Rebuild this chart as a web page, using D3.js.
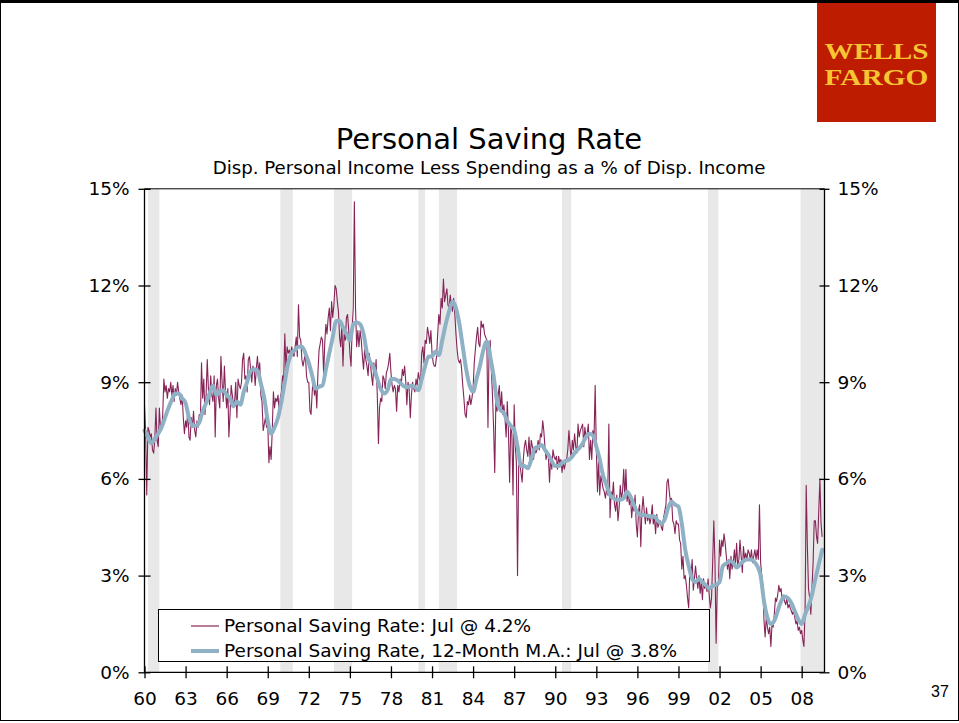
<!DOCTYPE html>
<html>
<head>
<meta charset="utf-8">
<script src="https://cdn.jsdelivr.net/npm/d3@7"></script>
<style>
  body { margin: 0; background: #fff; }
  svg { display: block; }
</style>
</head>
<body>
<svg id="chart" width="959" height="723"></svg>
<script>
// monthly personal saving rate, Jan 1960 - Jul 2009 (one row per year)
var savingRate = [].concat(
    [8.3, 7.4, 5.5, 7.6, 7.5, 7.3, 7.4, 6.9, 6.8, 7.2, 8.2, 7.2],
    [7.0, 8.2, 7.6, 7.5, 8.0, 9.1, 8.7, 8.9, 8.5, 8.8, 8.7, 9.0],
    [8.6, 8.9, 8.4, 8.8, 8.6, 9.0, 8.7, 8.5, 8.3, 8.6, 7.9, 7.4],
    [7.8, 7.6, 8.2, 7.3, 7.2, 7.9, 7.6, 8.1, 7.5, 7.3, 7.8, 7.6],
    [8.0, 7.9, 9.6, 8.5, 9.1, 8.0, 8.6, 9.7, 8.8, 8.3, 9.2, 8.6],
    [8.4, 9.2, 7.3, 8.9, 9.1, 8.5, 8.2, 9.8, 9.0, 8.4, 9.5, 8.7],
    [8.2, 8.8, 7.3, 8.0, 8.9, 8.6, 8.3, 8.4, 9.0, 7.9, 9.1, 8.9],
    [8.8, 9.0, 9.7, 9.9, 9.1, 9.2, 8.7, 9.7, 9.8, 9.4, 9.0, 9.5],
    [9.4, 8.9, 9.4, 9.8, 9.3, 9.6, 8.6, 8.4, 7.5, 7.7, 7.9, 7.6],
    [7.7, 6.5, 7.0, 6.6, 7.5, 8.7, 8.2, 8.5, 8.4, 8.6, 8.1, 8.5],
    [8.7, 9.2, 9.0, 10.5, 9.4, 10.1, 9.9, 10.0, 9.8, 10.1, 9.9, 9.8],
    [10.1, 10.4, 9.8, 11.4, 10.4, 10.3, 9.7, 9.5, 9.7, 9.9, 9.2, 9.0],
    [9.0, 8.1, 8.0, 8.7, 9.1, 8.6, 8.9, 8.2, 9.3, 10.0, 10.2, 10.4],
    [10.3, 9.2, 10.2, 10.8, 10.5, 11.0, 11.3, 10.6, 11.5, 11.0, 11.4, 12.0],
    [11.9, 11.5, 11.2, 10.4, 10.1, 10.8, 9.5, 10.5, 10.3, 11.0, 11.1, 10.6],
    [9.9, 9.5, 10.6, 11.3, 14.6, 11.3, 10.1, 10.6, 10.1, 10.6, 10.3, 9.8],
    [9.4, 10.1, 9.7, 9.5, 9.2, 9.9, 9.6, 9.2, 8.9, 9.6, 9.2, 9.7],
    [8.6, 7.1, 8.2, 8.5, 8.4, 9.2, 9.1, 8.8, 9.3, 9.4, 9.6, 9.9],
    [9.3, 8.9, 8.7, 8.9, 8.8, 8.1, 8.9, 8.7, 9.1, 8.9, 9.4, 9.2],
    [9.5, 9.0, 8.3, 9.0, 8.8, 7.9, 8.6, 9.0, 8.8, 8.7, 9.1, 8.9],
    [9.3, 9.1, 9.0, 9.9, 10.1, 9.6, 10.3, 10.2, 10.7, 10.5, 10.2, 10.6],
    [9.9, 9.6, 9.5, 9.5, 9.8, 10.5, 11.1, 10.8, 11.6, 11.3, 12.2, 11.5],
    [11.7, 11.9, 11.4, 11.3, 11.7, 11.4, 11.2, 11.6, 11.1, 10.5, 10.0, 9.7],
    [9.6, 9.7, 9.4, 8.9, 8.5, 8.0, 7.9, 8.4, 8.3, 8.6, 8.3, 8.5],
    [8.8, 9.6, 10.0, 10.4, 10.7, 10.2, 10.1, 10.9, 10.7, 10.8, 10.5, 10.4],
    [10.3, 7.6, 9.9, 10.3, 9.4, 8.6, 7.6, 6.2, 8.5, 8.1, 8.6, 8.9],
    [8.1, 8.7, 8.0, 8.3, 7.9, 7.3, 8.4, 7.5, 5.9, 7.6, 7.4, 5.5],
    [8.3, 7.0, 6.5, 3.0, 6.4, 6.5, 6.2, 5.9, 6.6, 7.0, 7.2, 6.9],
    [6.7, 7.3, 6.6, 7.2, 7.0, 6.6, 7.0, 6.8, 6.9, 7.2, 6.9, 7.4],
    [7.3, 7.8, 7.5, 7.0, 6.6, 6.8, 6.7, 5.9, 6.7, 6.3, 6.9, 6.7],
    [6.6, 6.7, 6.3, 6.7, 6.5, 6.6, 6.2, 6.5, 6.3, 6.5, 6.6, 6.9],
    [7.5, 7.0, 6.6, 7.2, 6.9, 7.4, 7.0, 6.8, 7.7, 7.3, 7.5, 7.6],
    [7.7, 7.0, 7.6, 7.3, 7.4, 7.7, 6.6, 7.2, 6.6, 7.5, 7.3, 8.9],
    [6.9, 5.6, 6.6, 5.5, 6.1, 5.9, 5.7, 5.6, 5.4, 5.7, 5.5, 7.7],
    [4.8, 5.6, 5.4, 5.9, 5.2, 5.0, 5.5, 4.7, 5.1, 5.8, 5.4, 5.6],
    [6.3, 5.4, 6.3, 5.3, 5.6, 5.2, 5.5, 4.8, 5.2, 5.0, 5.5, 4.6],
    [4.2, 5.0, 5.2, 3.9, 5.0, 5.45, 5.0, 4.6, 5.1, 4.7, 4.9, 4.6],
    [4.8, 5.2, 4.6, 4.8, 4.3, 4.9, 4.5, 4.6, 4.7, 4.5, 4.4, 4.8],
    [5.0, 5.2, 5.9, 6.0, 5.6, 5.3, 5.4, 4.7, 4.6, 4.3, 4.7, 4.6],
    [4.6, 4.1, 4.0, 3.2, 3.6, 2.9, 3.0, 2.7, 2.3, 2.0, 3.2, 3.0],
    [3.5, 2.55, 2.9, 3.3, 2.9, 2.6, 3.0, 2.45, 2.8, 2.25, 2.9, 2.6],
    [2.7, 2.5, 2.9, 2.4, 2.0, 2.3, 3.4, 4.7, 3.4, 0.9, 2.7, 2.7],
    [4.1, 3.6, 4.1, 3.9, 4.3, 4.0, 3.6, 3.2, 3.5, 2.9, 3.6, 3.2],
    [3.4, 3.8, 3.3, 4.0, 3.3, 3.5, 4.1, 3.6, 3.1, 3.9, 3.5, 3.7],
    [3.5, 3.8, 3.7, 3.5, 3.8, 3.4, 3.6, 3.8, 3.5, 3.8, 3.5, 5.2],
    [3.4, 3.0, 2.7, 1.6, 1.1, 1.7, 1.4, 1.2, 1.4, 0.8, 1.5, 1.4],
    [1.8, 2.3, 2.2, 2.4, 2.7, 2.5, 2.6, 2.2, 2.4, 2.2, 2.1, 2.3],
    [2.0, 2.1, 2.0, 1.9, 1.8, 1.9, 1.7, 1.5, 1.6, 1.3, 1.4, 1.2],
    [1.3, 1.0, 0.8, 1.9, 5.8, 3.9, 2.6, 2.3, 1.8, 2.6, 3.4, 4.7],
    [4.7, 4.2, 4.0, 5.0, 6.0, 4.6, 4.2]
);

// 12-month moving average, one value per quarter (Jan, Apr, Jul, Oct)
var movingAvg = [].concat(
    [7.5, 7.3, 7.1, 7.25], [7.4, 7.6, 7.9, 8.2], [8.45, 8.65, 8.65, 8.5], [8.35, 7.9, 7.65, 7.65],
    [7.75, 8.1, 8.35, 8.65], [8.9, 8.6, 8.7, 8.75], [8.6, 8.5, 8.25, 8.4], [8.3, 8.7, 9.0, 9.35],
    [9.4, 9.37, 8.96, 8.5], [7.8, 7.4, 7.6, 7.9], [8.4, 9.0, 9.6, 9.9], [10.0, 10.1, 10.1, 9.9],
    [9.6, 9.2, 8.8, 8.86], [8.9, 9.4, 9.9, 10.4], [10.9, 10.9, 10.7, 10.5], [10.3, 10.8, 10.85, 10.8],
    [10.5, 9.9, 9.6, 9.45], [9.1, 8.8, 8.65, 8.75], [9.1, 9.1, 9.05, 8.95], [8.86, 8.85, 8.9, 8.85],
    [8.75, 9.1, 9.5, 9.8], [9.8, 9.95, 9.84, 10.3], [10.8, 11.2, 11.5, 11.3], [10.8, 10.1, 9.4, 8.9],
    [8.7, 9.1, 9.5, 10.0], [10.26, 9.8, 9.2, 8.4], [8.14, 8.05, 7.8, 7.65], [7.52, 7.0, 6.4, 6.4],
    [6.33, 6.6, 6.95, 7.0], [7.05, 6.9, 6.75, 6.55], [6.4, 6.4, 6.5, 6.55], [6.6, 6.7, 6.85, 6.95],
    [7.1, 7.3, 7.4, 7.35], [7.0, 6.6, 6.1, 5.8], [5.5, 5.4, 5.35, 5.35], [5.4, 5.6, 5.45, 5.2],
    [4.95, 4.88, 4.88, 4.85], [4.83, 4.83, 4.7, 4.62], [4.75, 5.1, 5.3, 5.2], [5.14, 4.6, 3.8, 3.3],
    [2.9, 2.8, 2.9, 2.8], [2.7, 2.6, 2.68, 2.72], [2.8, 3.3, 3.38, 3.45], [3.4, 3.25, 3.35, 3.45],
    [3.5, 3.5, 3.45, 3.3], [3.0, 2.2, 1.7, 1.5], [1.6, 1.9, 2.2, 2.35], [2.3, 2.15, 1.9, 1.65],
    [1.5, 1.8, 2.05, 2.4], [2.9, 3.35, 3.8]
);

// recessions [start, end] as [year, month index]
var recessions = [
    [[1960, 3], [1961, 1]],
    [[1969, 11], [1970, 10]],
    [[1973, 10], [1975, 2]],
    [[1980, 0], [1980, 6]],
    [[1981, 6], [1982, 10]],
    [[1990, 6], [1991, 2]],
    [[2001, 2], [2001, 11]],
    [[2007, 11], [2009, 8]]
];

var yTicks = [0, 3, 6, 9, 12, 15];
var xTickYears = [1960, 1963, 1966, 1969, 1972, 1975, 1978, 1981, 1984, 1987, 1990, 1993, 1996, 1999, 2002, 2005, 2008];
var legendLabels = [
    "Personal Saving Rate: Jul @ 4.2%",
    "Personal Saving Rate, 12-Month M.A.: Jul @ 3.8%"
];

var monthly = savingRate.map((v, i) => ({ date: new Date(1960 + Math.floor(i / 12), i % 12, 1), value: v }));
var quarterly = movingAvg.map((v, i) => ({ date: new Date(1960 + Math.floor(i / 4), (i % 4) * 3, 1), value: v }));

var svg = d3.select("svg#chart"),
    font = "Verdana, 'DejaVu Sans', sans-serif",
    plot = { left: 144.5, right: 824.5, top: 188.8, bottom: 672.3 },
    x_scale = d3.scaleTime()
        .domain([new Date(1960, 0, 1), new Date(2009, 8, 1)])
        .range([plot.left, plot.right]),
    y_scale = d3.scaleLinear().domain([0, 15]).range([plot.bottom, plot.top]);

// slide frame
svg.append("rect")
    .attr("x", 0.5).attr("y", 1.5)
    .attr("width", 958).attr("height", 719)
    .attr("fill", "none").attr("stroke", "#000").attr("stroke-width", 1);
svg.append("line")
    .attr("x1", 0).attr("x2", 959).attr("y1", 1.5).attr("y2", 1.5)
    .attr("stroke", "#000").attr("stroke-width", 3);

// logo
var logo = svg.append("g");
logo.append("rect")
    .attr("x", 817).attr("y", 3).attr("width", 119).attr("height", 119)
    .attr("fill", "#bd1c00");
logo.selectAll("text")
    .data(["WELLS", "FARGO"])
    .enter()
    .append("text")
    .attr("x", 876.5)
    .attr("y", (d, i) => 59 + i * 26)
    .attr("text-anchor", "middle")
    .attr("font-family", "'Liberation Serif', serif")
    .attr("font-weight", "bold")
    .attr("font-size", 24)
    .attr("textLength", 104)
    .attr("lengthAdjust", "spacingAndGlyphs")
    .attr("fill", "#f7c531")
    .text(d => d);

// titles
svg.append("text")
    .attr("x", 489).attr("y", 149)
    .attr("text-anchor", "middle")
    .attr("font-family", font).attr("font-size", 29)
    .text("Personal Saving Rate");
svg.append("text")
    .attr("x", 489).attr("y", 174)
    .attr("text-anchor", "middle")
    .attr("font-family", font).attr("font-size", 18.2)
    .text("Disp. Personal Income Less Spending as a % of Disp. Income");

// recession bands
svg.append("g")
    .selectAll("rect")
    .data(recessions)
    .enter()
    .append("rect")
    .attr("x", d => x_scale(new Date(d[0][0], d[0][1], 1)))
    .attr("width", d => Math.min(plot.right, x_scale(new Date(d[1][0], d[1][1], 1))) - x_scale(new Date(d[0][0], d[0][1], 1)))
    .attr("y", plot.top)
    .attr("height", plot.bottom - plot.top)
    .attr("fill", "#e8e8e8");

// series
svg.append("path")
    .datum(monthly)
    .attr("fill", "none")
    .attr("stroke", "#862457")
    .attr("stroke-width", 1.1)
    .attr("stroke-linejoin", "round")
    .attr("d", d3.line().x(d => x_scale(d.date)).y(d => y_scale(d.value)));

svg.append("path")
    .datum(quarterly)
    .attr("fill", "none")
    .attr("stroke", "#8fb1c6")
    .attr("stroke-width", 4)
    .attr("stroke-linejoin", "round")
    .attr("stroke-linecap", "round")
    .attr("d", d3.line().curve(d3.curveMonotoneX).x(d => x_scale(d.date)).y(d => y_scale(d.value)));

// frame + axes
svg.append("line")
    .attr("x1", plot.left).attr("x2", plot.right).attr("y1", plot.top).attr("y2", plot.top)
    .attr("stroke", "#000");

var y_left = d3.axisLeft(y_scale).tickValues(yTicks).tickSize(6).tickFormat(d => d + "%");
var y_right = d3.axisRight(y_scale).tickValues(yTicks).tickSize(6).tickFormat(d => d + "%");
var x_axis = d3.axisBottom(x_scale)
    .tickValues(xTickYears.map(y => new Date(y, 0, 1)))
    .tickSize(6)
    .tickFormat(d3.timeFormat("%y"));

function styleAxis(g) {
    g.select(".domain").attr("stroke", "#000").attr("stroke-width", 1.3);
    g.selectAll(".tick line").attr("stroke", "#000").attr("stroke-width", 1.3);
    g.selectAll(".tick text")
        .attr("font-family", font)
        .attr("font-size", 18.5)
        .attr("fill", "#000");
}

svg.append("g")
    .attr("transform", "translate(" + plot.left + ",0)")
    .call(y_left)
    .call(g => {
        styleAxis(g);
        g.selectAll(".tick line").attr("x1", 6).attr("x2", -6);
        g.selectAll(".tick text").attr("x", -15);
        g.select(".domain").attr("d", "M0," + plot.top + "V" + plot.bottom);
    });

svg.append("g")
    .attr("transform", "translate(" + plot.right + ",0)")
    .call(y_right)
    .call(g => {
        styleAxis(g);
        g.selectAll(".tick line").attr("x1", -5).attr("x2", 5);
        g.selectAll(".tick text").attr("x", 13);
        g.select(".domain").attr("d", "M0," + plot.top + "V" + plot.bottom);
    });

svg.append("g")
    .attr("transform", "translate(0," + plot.bottom + ")")
    .call(x_axis)
    .call(g => {
        styleAxis(g);
        g.selectAll(".tick line").attr("y1", -6).attr("y2", 6);
        g.selectAll(".tick text").attr("y", 20);
        g.select(".domain").attr("d", "M" + plot.left + ",0H" + plot.right);
    });

// legend
var legend = svg.append("g");
legend.append("rect")
    .attr("x", 158.5).attr("y", 609.5).attr("width", 551).attr("height", 52)
    .attr("fill", "#fff").attr("stroke", "#000").attr("stroke-width", 1);
legend.selectAll("line")
    .data(legendLabels)
    .enter()
    .append("line")
    .attr("x1", 191).attr("x2", 219)
    .attr("y1", (d, i) => 626 + i * 25).attr("y2", (d, i) => 626 + i * 25)
    .attr("stroke", (d, i) => i ? "#8fb1c6" : "#862457")
    .attr("stroke-width", (d, i) => i ? 4 : 1.2);
legend.selectAll("text")
    .data(legendLabels)
    .enter()
    .append("text")
    .attr("x", 224)
    .attr("y", (d, i) => 632 + i * 25)
    .attr("font-family", font)
    .attr("font-size", 18.5)
    .text(d => d);

// page number
svg.append("text")
    .attr("x", 940).attr("y", 697)
    .attr("text-anchor", "middle")
    .attr("font-family", "Arial, 'Liberation Sans', sans-serif")
    .attr("font-size", 16)
    .text("37");
</script>
</body>
</html>
